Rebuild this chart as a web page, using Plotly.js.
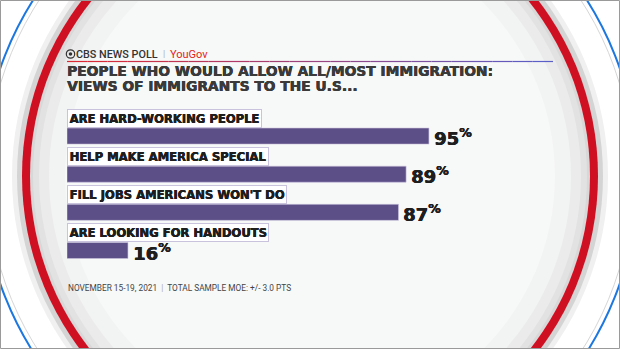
<!DOCTYPE html>
<html><head><meta charset="utf-8">
<script src="https://cdn.plot.ly/plotly-3.0.1.min.js"></script>
<style>html,body{margin:0;padding:0;background:#fff}#c{width:620px;height:349px}</style>
</head><body><div id="c"></div>
<script>
const categories = ["ARE HARD-WORKING PEOPLE", "HELP MAKE AMERICA SPECIAL", "FILL JOBS AMERICANS WON'T DO", "ARE LOOKING FOR HANDOUTS"];
const values = [95, 89, 87, 16];
const titleLines = ["PEOPLE WHO WOULD ALLOW ALL/MOST IMMIGRATION:", "VIEWS OF IMMIGRANTS TO THE U.S..."];
const footer = "NOVEMBER 15-19, 2021";
const footer2 = "TOTAL SAMPLE MOE: +/- 3.0 PTS";

const L = 67, T = 117, W = 381, H = 161;
const FW = 620, FH = 349;
const px = x => (x - L) / W;
const py = y => 1 - (y - T) / H;
const HEAVY = "'DejaVu Sans', sans-serif";
const thick = c => `0.45px 0 0 ${c}, 0 0.3px 0 ${c}`;

const shapes = [];
function circ(cx, cy, r, fill, line, lw) {
  shapes.push({type: 'circle', xref: 'paper', yref: 'paper', layer: 'below',
    x0: px(cx - r), x1: px(cx + r), y0: py(cy + r), y1: py(cy - r),
    fillcolor: fill || 'rgba(0,0,0,0)', line: {color: line || 'rgba(0,0,0,0)', width: lw || 0}});
}
const CX = 310, CY = 176;
circ(CX, CY, 328, '#ffffff', '#1c78e0', 2);
circ(CX, CY, 323, '#ffffff', '#d6d6d6', 1);
circ(CX, CY, 298, '#f0f0f0');
circ(CX, CY, 293, '#d4d4d4');
circ(CX, CY, 288, '#cf1022');
circ(CX, CY, 280, '#d8d8d8');
circ(CX, CY, 277, '#e2e2e2');
circ(CX, CY, 271, '#ebebeb');
circ(CX, CY, 261, '#f2f3f3');
circ(CX, CY, 245, '#f7f8f8');
const segN = 24, xs = 67, xe = 553;
for (let i = 0; i < segN; i++) {
  const t = i / (segN - 1);
  const r = Math.round(220 + (90 - 220) * t), g = Math.round(40 + (95 - 40) * t), b = Math.round(50 + (200 - 50) * t);
  shapes.push({type: 'line', xref: 'paper', yref: 'paper', layer: 'below',
    x0: px(xs + (xe - xs) * i / segN), x1: px(xs + (xe - xs) * (i + 1) / segN), y0: py(61.5), y1: py(61.5),
    line: {color: `rgb(${r},${g},${b})`, width: 1.2}});
}
circ(70.5, 54, 4.2, 'rgba(0,0,0,0)', '#333', 1.2);
circ(70.5, 54, 1.8, '#333');
shapes.push({type: 'rect', xref: 'paper', yref: 'paper', layer: 'above',
  x0: px(0.5), x1: px(619.5), y0: py(348.5), y1: py(0.5), line: {color: '#9a9a9a', width: 1}});

const annotations = [];
annotations.push({xref: 'paper', yref: 'paper', x: px(74), y: py(54), xanchor: 'left', yanchor: 'middle', showarrow: false,
  text: 'CBS NEWS POLL', font: {family: "Roboto, sans-serif", size: 10.8, color: '#333', weight: 500}});
annotations.push({xref: 'paper', yref: 'paper', x: px(161), y: py(54), xanchor: 'left', yanchor: 'middle', showarrow: false,
  text: '|', font: {family: "Roboto, sans-serif", size: 9, color: '#aaa'}});
annotations.push({xref: 'paper', yref: 'paper', x: px(168), y: py(54), xanchor: 'left', yanchor: 'middle', showarrow: false,
  text: 'YouGov', font: {family: "Roboto, sans-serif", size: 11, color: '#e2231a'}});
titleLines.forEach((t, i) => annotations.push({xref: 'paper', yref: 'paper', x: px(65), y: py(70.5 + 16 * i), xanchor: 'left', yanchor: 'middle', showarrow: false,
  text: '<b>' + t + '</b>', font: {family: HEAVY, size: 13.8, color: '#3a3a3a', shadow: thick('#3a3a3a')}}));
annotations.push({xref: 'paper', yref: 'paper', x: px(66), y: py(288), xanchor: 'left', yanchor: 'middle', showarrow: false,
  text: footer + '  <span style="color:#aaa">|</span>  ' + footer2, font: {family: "Roboto, sans-serif", size: 8.3, color: '#444'}});

categories.forEach((c, i) => {
  annotations.push({xref: 'x', yref: 'y', x: 0, y: c, xanchor: 'left', yanchor: 'middle', yshift: 18, showarrow: false,
    text: '<b>' + c + '</b>', bgcolor: '#ffffff', bordercolor: '#c9c3dd', borderwidth: 1, borderpad: 1.5,
    font: {family: HEAVY, size: 11.6, color: '#1e1e1e', shadow: thick('#1e1e1e')}});
  annotations.push({xref: 'x', yref: 'y', x: values[i], y: c, xanchor: 'left', yanchor: 'middle', xshift: 3, yshift: -1, showarrow: false,
    text: '<b>' + values[i] + '<sup>%</sup></b>', font: {family: HEAVY, size: 18, color: '#1e1e1e', shadow: thick('#1e1e1e')}});
});

const data = [{type: 'bar', orientation: 'h', x: values, y: categories,
  marker: {color: '#5c4e86', line: {color: '#c9c3dd', width: 0.6}}, hoverinfo: 'none'}];

const layout = {
  width: FW, height: FH, margin: {l: L, r: FW - L - W, t: T, b: FH - T - H},
  paper_bgcolor: '#ffffff', plot_bgcolor: 'rgba(0,0,0,0)',
  xaxis: {range: [0, 100], visible: false, fixedrange: true},
  yaxis: {type: 'category', autorange: 'reversed', visible: false, fixedrange: true},
  bargap: 0.58, showlegend: false, shapes, annotations
};
Plotly.newPlot('c', data, layout, {displayModeBar: false, staticPlot: true});
</script></body></html>
